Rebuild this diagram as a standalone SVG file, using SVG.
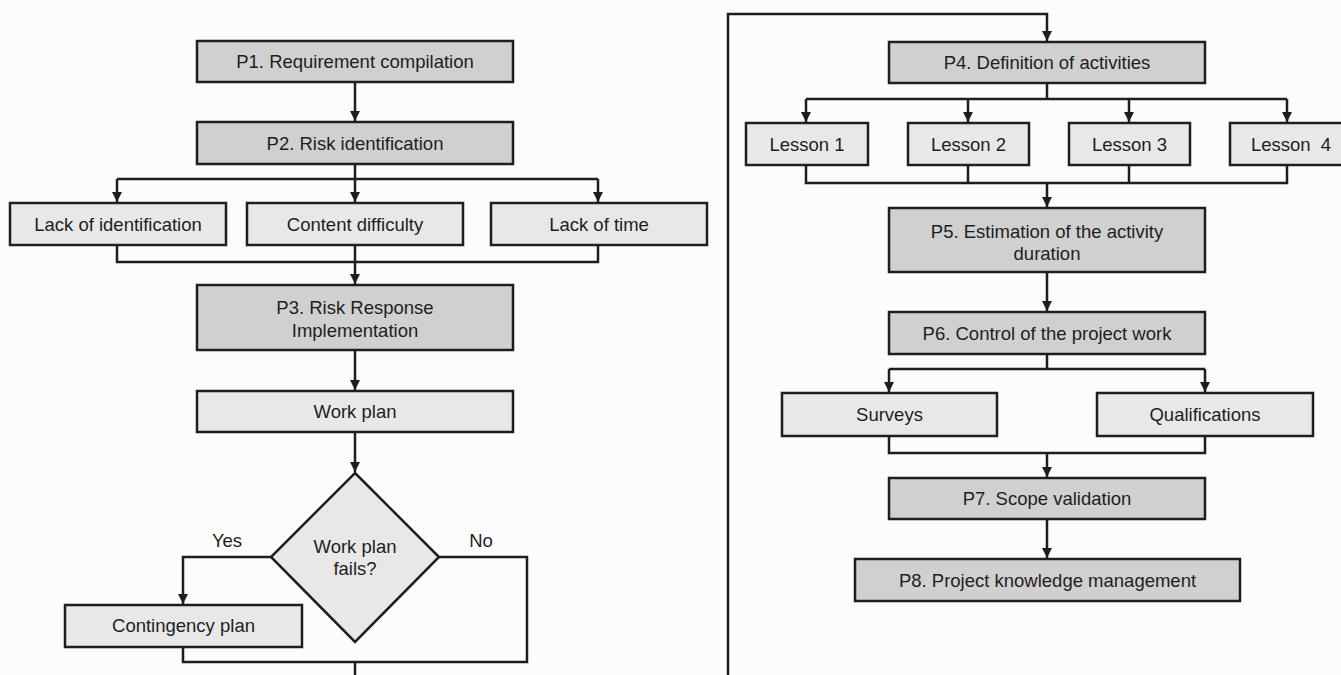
<svg xmlns="http://www.w3.org/2000/svg" width="1341" height="675" viewBox="0 0 1341 675">
<style>
.bg{fill:#fcfcfc}
.dk{fill:#d0d0d0;stroke:#1e1e1e;stroke-width:2.5}
.lt{fill:#e8e8e8;stroke:#1e1e1e;stroke-width:2.5}
.t{font-family:"Liberation Sans",Arial,sans-serif;font-size:18.5px;fill:#1e1e1e;text-anchor:middle}
.c{fill:none;stroke:#1e1e1e;stroke-width:2.5}
.a{marker-end:url(#arr)}
</style>
<defs>
<marker id="arr" markerUnits="userSpaceOnUse" markerWidth="11" markerHeight="11" refX="10" refY="5" orient="auto">
<path d="M0,0 L10,5 L0,10 z" fill="#1e1e1e"/>
</marker>
</defs>
<rect class="bg" x="0" y="0" width="1341" height="675"/>

<g id="connectors">
<path class="c a" d="M355,82 V121"/>
<path class="c" d="M355,164 V179 M117,179 H598"/>
<path class="c a" d="M117,179 V202"/>
<path class="c a" d="M355,179 V202"/>
<path class="c a" d="M598,179 V202"/>
<path class="c" d="M117,245 V262 H598 V245"/>
<path class="c a" d="M355,245 V284"/>
<path class="c a" d="M355,350 V390"/>
<path class="c a" d="M355,432 V472"/>
<path class="c a" d="M271,557 H183 V604"/>
<path class="c" d="M439,557 H527 V662 H183 V647"/>
<path class="c" d="M355,662 V676"/>
<path class="c a" d="M728,676 V14 H1047 V41"/>
<path class="c" d="M1047,83 V99 M806,99 H1287"/>
<path class="c a" d="M806,99 V122"/>
<path class="c a" d="M968,99 V122"/>
<path class="c a" d="M1129,99 V122"/>
<path class="c a" d="M1287,99 V122"/>
<path class="c" d="M806,165 V183 H1287 V165 M968,165 V183 M1129,165 V183"/>
<path class="c a" d="M1047,183 V207"/>
<path class="c a" d="M1047,272 V311"/>
<path class="c" d="M1047,354 V369 M889,369 H1205"/>
<path class="c a" d="M889,369 V392"/>
<path class="c a" d="M1205,369 V392"/>
<path class="c" d="M889,436 V453 H1205 V436"/>
<path class="c a" d="M1047,453 V477"/>
<path class="c a" d="M1047,519 V558"/>
</g>

<g id="p1"><rect class="dk" x="197" y="41" width="316" height="41"/><text class="t" x="355" y="68">P1. Requirement compilation</text></g>
<g id="p2"><rect class="dk" x="197" y="122" width="316" height="42"/><text class="t" x="355" y="149.5">P2. Risk identification</text></g>
<g id="lack-identification"><rect class="lt" x="10" y="203" width="216" height="42"/><text class="t" x="118" y="230.5">Lack of identification</text></g>
<g id="content-difficulty"><rect class="lt" x="247" y="203" width="216" height="42"/><text class="t" x="355" y="230.5">Content difficulty</text></g>
<g id="lack-time"><rect class="lt" x="491" y="203" width="216" height="42"/><text class="t" x="599" y="230.5">Lack of time</text></g>
<g id="p3"><rect class="dk" x="197" y="285" width="316" height="65"/><text class="t" x="355" y="313.5">P3. Risk Response</text><text class="t" x="355" y="336.5">Implementation</text></g>
<g id="work-plan"><rect class="lt" x="197" y="391" width="316" height="41"/><text class="t" x="355" y="418">Work plan</text></g>
<g id="decision"><polygon class="lt" points="355,473 439,557 355,642 271,557"/><text class="t" x="355" y="552.5">Work plan</text><text class="t" x="355" y="574.5">fails?</text></g>
<g id="labels"><text class="t" x="227" y="546.5">Yes</text><text class="t" x="481" y="546.5">No</text></g>
<g id="contingency"><rect class="lt" x="65" y="605" width="237" height="42"/><text class="t" x="183.5" y="632">Contingency plan</text></g>

<g id="p4"><rect class="dk" x="889" y="42" width="316" height="41"/><text class="t" x="1047" y="69">P4. Definition of activities</text></g>
<g id="lesson1"><rect class="lt" x="746" y="123" width="122" height="42"/><text class="t" x="807" y="150.5">Lesson 1</text></g>
<g id="lesson2"><rect class="lt" x="908" y="123" width="121" height="42"/><text class="t" x="968.5" y="150.5">Lesson 2</text></g>
<g id="lesson3"><rect class="lt" x="1069" y="123" width="121" height="42"/><text class="t" x="1129.5" y="150.5">Lesson 3</text></g>
<g id="lesson4"><rect class="lt" x="1230" y="123" width="122" height="42"/><text class="t" x="1291" y="150.5" xml:space="preserve">Lesson  4</text></g>
<g id="p5"><rect class="dk" x="889" y="208" width="316" height="64"/><text class="t" x="1047" y="237.5">P5. Estimation of the activity</text><text class="t" x="1047" y="259.5">duration</text></g>
<g id="p6"><rect class="dk" x="889" y="312" width="316" height="42"/><text class="t" x="1047" y="339.5">P6. Control of the project work</text></g>
<g id="surveys"><rect class="lt" x="782" y="393" width="215" height="43"/><text class="t" x="889.5" y="421">Surveys</text></g>
<g id="qualifications"><rect class="lt" x="1097" y="393" width="216" height="43"/><text class="t" x="1205" y="421">Qualifications</text></g>
<g id="p7"><rect class="dk" x="889" y="478" width="316" height="41"/><text class="t" x="1047" y="505">P7. Scope validation</text></g>
<g id="p8"><rect class="dk" x="855" y="559" width="385" height="42"/><text class="t" x="1047.5" y="586.5">P8. Project knowledge management</text></g>
</svg>
